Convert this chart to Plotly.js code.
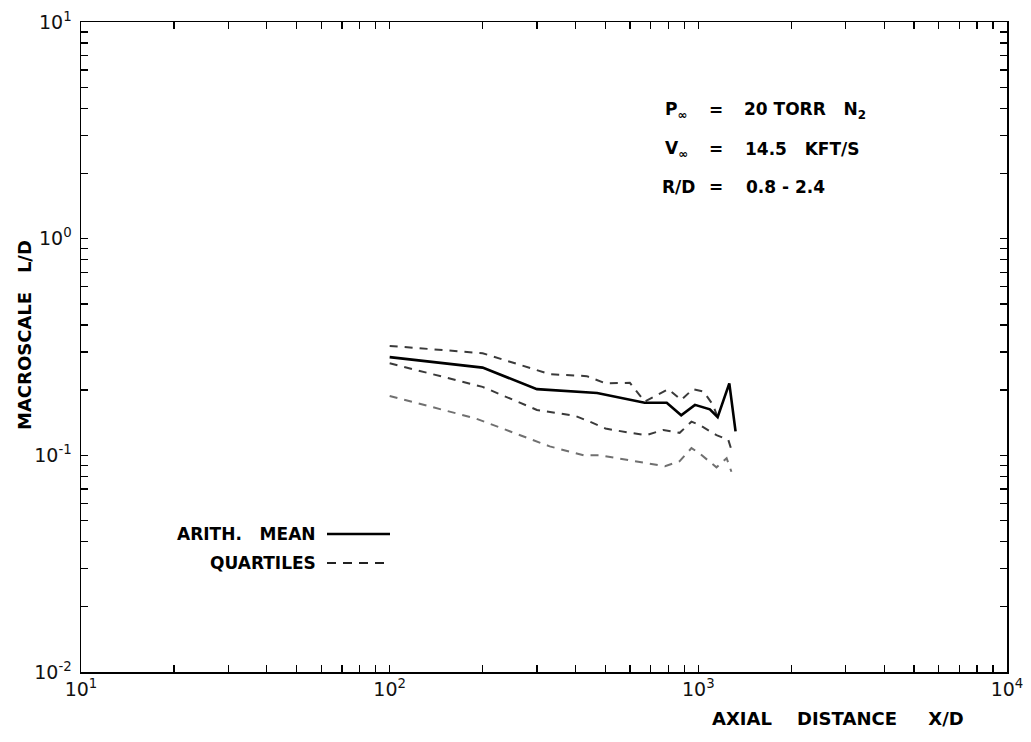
<!DOCTYPE html>
<html>
<head>
<meta charset="utf-8">
<script src="https://cdn.plot.ly/plotly-3.0.1.min.js"></script>
<style>html,body{margin:0;padding:0;background:#fff;}#chart{width:1031px;height:742px;}</style>
</head>
<body>
<div id="chart"></div>
<script>
// Arithmetic mean of macroscale L/D
const xMean = [100, 200, 300, 470, 670, 790, 880, 975, 1090, 1155, 1260, 1320];
const yMean = [0.284, 0.254, 0.202, 0.194, 0.175, 0.175, 0.153, 0.171, 0.163, 0.150, 0.215, 0.129];

// Upper quartile
const xUpper = [100, 200, 330, 435, 500, 600, 670, 800, 880, 960, 1040, 1115, 1155];
const yUpper = [0.320, 0.296, 0.237, 0.232, 0.215, 0.216, 0.177, 0.202, 0.180, 0.202, 0.197, 0.171, 0.150];

// Middle dashed curve
const xMid = [100, 200, 300, 400, 445, 500, 600, 680, 770, 870, 950, 1010, 1145, 1250, 1280];
const yMid = [0.266, 0.207, 0.162, 0.152, 0.143, 0.133, 0.127, 0.124, 0.131, 0.127, 0.143, 0.138, 0.124, 0.118, 0.106];

// Lower quartile
const xLow = [100, 190, 330, 425, 480, 660, 780, 870, 950, 1010, 1145, 1235, 1280];
const yLow = [0.188, 0.148, 0.110, 0.100, 0.100, 0.0925, 0.089, 0.094, 0.108, 0.102, 0.088, 0.097, 0.084];

// Axis ticks
const decadesX = [10, 100, 1000, 10000];
const decadeLabelsX = ['10<sup>1</sup>', '10<sup>2</sup>', '10<sup>3</sup>', '10<sup>4</sup>'];
const decadesY = [0.01, 0.1, 1, 10];
const decadeLabelsY = ['10<sup>-2</sup>', '10<sup>-1</sup>', '10<sup>0</sup>', '10<sup>1</sup>'];

function logTicks(decades, labels) {
  const vals = [], text = [];
  decades.forEach((d, i) => {
    vals.push(d); text.push(labels[i]);
    if (i < decades.length - 1) {
      for (let m = 2; m <= 9; m++) { vals.push(d * m); text.push(''); }
    }
  });
  return {vals, text};
}
const tx = logTicks(decadesX, decadeLabelsX);
const ty = logTicks(decadesY, decadeLabelsY);

const dashStyle = '8px,7px';
const traces = [
  {x: xUpper, y: yUpper, mode: 'lines', line: {color: '#3a3a3a', width: 2, dash: dashStyle}, hoverinfo: 'skip'},
  {x: xMid, y: yMid, mode: 'lines', line: {color: '#3a3a3a', width: 2, dash: dashStyle}, hoverinfo: 'skip'},
  {x: xLow, y: yLow, mode: 'lines', line: {color: '#707070', width: 2, dash: dashStyle}, hoverinfo: 'skip'},
  {x: xMean, y: yMean, mode: 'lines', line: {color: '#000', width: 2.6}, hoverinfo: 'skip'}
];

const F = 'DejaVu Sans, sans-serif';
const bold = {family: F, size: 17, color: '#000', weight: 'bold'};
const px = (p) => (p - 81) / 926;
const py = (p) => (672 - p) / 650;

function ann(text, x, y, anchor, extra) {
  return Object.assign({text: text, xref: 'paper', yref: 'paper', x: px(x), y: py(y),
    xanchor: anchor, yanchor: 'middle', showarrow: false, font: bold}, extra || {});
}

const annotations = [
  ann('P<sub>∞</sub>', 663, 110, 'left'),
  ann('=', 716, 110, 'center'),
  ann('20 TORR\u00a0\u00a0 N<sub>2</sub>', 742, 110, 'left'),
  ann('V<sub>∞</sub>', 663, 149, 'left'),
  ann('=', 716, 149, 'center'),
  ann('14.5\u00a0\u00a0 KFT/S', 743, 149, 'left'),
  ann('R/D', 660, 187, 'left'),
  ann('=', 716, 187, 'center'),
  ann('0.8 - 2.4', 744, 187, 'left'),
  ann('ARITH.\u00a0\u00a0 MEAN', 318, 534, 'right'),
  ann('QUARTILES', 318, 563, 'right'),
  ann('AXIAL\u00a0\u00a0\u00a0 DISTANCE\u00a0\u00a0\u00a0\u00a0 X/D', 710, 718, 'left', {font: Object.assign({}, bold, {size: 18})}),
  ann('MACROSCALE\u00a0\u00a0 L/D', 24, 335, 'center', {textangle: -90, font: Object.assign({}, bold, {size: 18})})
];

const shapes = [
  {type: 'line', xref: 'paper', yref: 'paper', x0: px(327), x1: px(390), y0: py(534), y1: py(534), line: {color: '#000', width: 2.4}},
  {type: 'line', xref: 'paper', yref: 'paper', x0: px(327), x1: px(390), y0: py(563), y1: py(563), line: {color: '#222', width: 2.2, dash: '9px,7px'}}
];

const axisCommon = {
  type: 'log', showgrid: false, zeroline: false, showline: true, linecolor: '#000', linewidth: 1.5,
  mirror: 'allticks', ticks: 'inside', ticklen: 7, tickwidth: 1.3, tickcolor: '#000',
  tickmode: 'array', tickangle: 0, tickfont: {family: F, size: 19, color: '#111'}
};

const layout = {
  width: 1031, height: 742,
  margin: {l: 81, r: 24, t: 22, b: 70},
  paper_bgcolor: '#fff', plot_bgcolor: '#fff',
  showlegend: false,
  xaxis: Object.assign({}, axisCommon, {range: [1, 4], tickvals: tx.vals, ticktext: tx.text}),
  yaxis: Object.assign({}, axisCommon, {range: [-2, 1], tickvals: ty.vals, ticktext: ty.text, ticklabelstandoff: 4}),
  annotations: annotations,
  shapes: shapes
};

Plotly.newPlot('chart', traces, layout, {staticPlot: true, displayModeBar: false});
</script>
</body>
</html>
